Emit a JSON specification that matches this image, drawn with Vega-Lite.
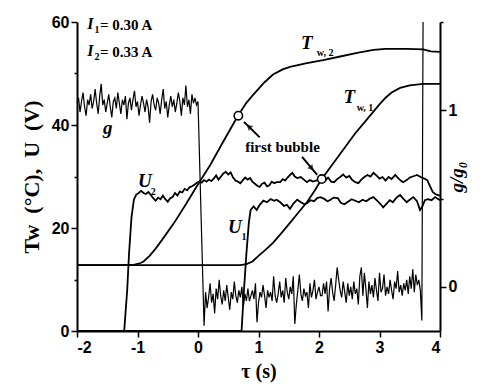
{
"$schema": "https://vega.github.io/schema/vega-lite/v6.json",
"width": 363, "height": 309,
"autosize": "none",
"padding": {"left": 77, "top": 22, "right": 48, "bottom": 56},
"background": "white",
"config": {"view": {"stroke": null}, "axis": {"grid": false, "domainColor": "black", "domainWidth": 2, "tickColor": "black", "tickWidth": 1.5, "labelColor": "black", "labelFont": "Liberation Sans", "labelFontWeight": "bold", "labelFontSize": 16, "titleColor": "black", "titleFont": "Liberation Serif", "titleFontWeight": "bold"}},
"datasets": {
"temps": [
{"s":"Tw2","t":-2,"v":12.8},{"s":"Tw2","t":-1.2,"v":12.8},{"s":"Tw2","t":-1.05,"v":12.9},{"s":"Tw2","t":-0.95,"v":13.2},{"s":"Tw2","t":-0.9,"v":13.5},{"s":"Tw2","t":-0.8,"v":14.6},{"s":"Tw2","t":-0.7,"v":16.0},{"s":"Tw2","t":-0.6,"v":17.6},{"s":"Tw2","t":-0.4,"v":20.9},{"s":"Tw2","t":-0.2,"v":24.6},{"s":"Tw2","t":0,"v":28.5},{"s":"Tw2","t":0.2,"v":32.2},{"s":"Tw2","t":0.4,"v":36.4},{"s":"Tw2","t":0.66,"v":41.8},{"s":"Tw2","t":0.8,"v":44.3},{"s":"Tw2","t":0.9,"v":45.7},{"s":"Tw2","t":1.0,"v":47.0},{"s":"Tw2","t":1.1,"v":48.3},{"s":"Tw2","t":1.24,"v":49.8},{"s":"Tw2","t":1.4,"v":50.8},{"s":"Tw2","t":1.52,"v":51.3},{"s":"Tw2","t":1.8,"v":52.0},{"s":"Tw2","t":2.07,"v":52.6},{"s":"Tw2","t":2.35,"v":53.3},{"s":"Tw2","t":2.63,"v":54.0},{"s":"Tw2","t":2.9,"v":54.6},{"s":"Tw2","t":3.1,"v":54.8},{"s":"Tw2","t":3.45,"v":54.8},{"s":"Tw2","t":3.72,"v":54.7},{"s":"Tw2","t":3.85,"v":54.3},{"s":"Tw2","t":4.0,"v":54.2},
{"s":"Tw1","t":-2,"v":12.8},{"s":"Tw1","t":0.7,"v":12.8},{"s":"Tw1","t":0.8,"v":13.0},{"s":"Tw1","t":0.9,"v":13.5},{"s":"Tw1","t":1.0,"v":14.6},{"s":"Tw1","t":1.1,"v":15.6},{"s":"Tw1","t":1.24,"v":17.1},{"s":"Tw1","t":1.4,"v":19.3},{"s":"Tw1","t":1.52,"v":21.0},{"s":"Tw1","t":1.66,"v":23.0},{"s":"Tw1","t":1.8,"v":25.0},{"s":"Tw1","t":1.93,"v":27.3},{"s":"Tw1","t":2.045,"v":29.5},{"s":"Tw1","t":2.2,"v":32.0},{"s":"Tw1","t":2.4,"v":35.2},{"s":"Tw1","t":2.6,"v":38.4},{"s":"Tw1","t":2.8,"v":41.2},{"s":"Tw1","t":3.0,"v":44.0},{"s":"Tw1","t":3.1,"v":45.3},{"s":"Tw1","t":3.2,"v":46.3},{"s":"Tw1","t":3.34,"v":47.2},{"s":"Tw1","t":3.5,"v":47.7},{"s":"Tw1","t":3.72,"v":48.0},{"s":"Tw1","t":4.0,"v":48.0},
{"s":"U2","t":-2,"v":0},{"s":"U2","t":-1.22,"v":0},{"s":"U2","t":-1.17,"v":8},{"s":"U2","t":-1.14,"v":15},{"s":"U2","t":-1.1,"v":22},{"s":"U2","t":-1.06,"v":25.5},{"s":"U2","t":-1.02,"v":26.5},{"s":"U2","t":-0.98,"v":26.8},{"s":"U2","t":-0.94,"v":27.2},{"s":"U2","t":-0.9,"v":26.8},{"s":"U2","t":-0.86,"v":26.6},{"s":"U2","t":-0.82,"v":27.0},{"s":"U2","t":-0.78,"v":26.4},{"s":"U2","t":-0.74,"v":25.8},{"s":"U2","t":-0.7,"v":25.3},{"s":"U2","t":-0.66,"v":25.9},{"s":"U2","t":-0.62,"v":25.6},{"s":"U2","t":-0.58,"v":26.3},{"s":"U2","t":-0.54,"v":25.6},{"s":"U2","t":-0.5,"v":25.1},{"s":"U2","t":-0.46,"v":25.8},{"s":"U2","t":-0.42,"v":26.0},{"s":"U2","t":-0.38,"v":26.8},{"s":"U2","t":-0.34,"v":26.3},{"s":"U2","t":-0.3,"v":27.1},{"s":"U2","t":-0.26,"v":26.9},{"s":"U2","t":-0.22,"v":27.6},{"s":"U2","t":-0.18,"v":27.3},{"s":"U2","t":-0.14,"v":27.9},{"s":"U2","t":-0.1,"v":28.1},{"s":"U2","t":-0.06,"v":28.4},{"s":"U2","t":-0.02,"v":28.8},{"s":"U2","t":0.02,"v":29.0},{"s":"U2","t":0.06,"v":28.8},{"s":"U2","t":0.1,"v":29.3},{"s":"U2","t":0.14,"v":29.0},{"s":"U2","t":0.18,"v":29.4},{"s":"U2","t":0.22,"v":29.1},{"s":"U2","t":0.26,"v":29.6},{"s":"U2","t":0.3,"v":30.2},{"s":"U2","t":0.34,"v":29.4},{"s":"U2","t":0.38,"v":30.0},{"s":"U2","t":0.42,"v":30.6},{"s":"U2","t":0.46,"v":30.9},{"s":"U2","t":0.5,"v":30.4},{"s":"U2","t":0.54,"v":30.8},{"s":"U2","t":0.58,"v":29.8},{"s":"U2","t":0.62,"v":29.2},{"s":"U2","t":0.66,"v":29.0},{"s":"U2","t":0.7,"v":28.7},{"s":"U2","t":0.74,"v":29.3},{"s":"U2","t":0.78,"v":29.8},{"s":"U2","t":0.82,"v":29.4},{"s":"U2","t":0.86,"v":29.7},{"s":"U2","t":0.9,"v":29.0},{"s":"U2","t":0.94,"v":28.6},{"s":"U2","t":0.98,"v":28.2},{"s":"U2","t":1.02,"v":28.0},{"s":"U2","t":1.06,"v":28.6},{"s":"U2","t":1.1,"v":28.8},{"s":"U2","t":1.14,"v":28.1},{"s":"U2","t":1.18,"v":28.3},{"s":"U2","t":1.22,"v":29.0},{"s":"U2","t":1.26,"v":28.7},{"s":"U2","t":1.3,"v":28.9},{"s":"U2","t":1.36,"v":28.9},{"s":"U2","t":1.4,"v":29.5},{"s":"U2","t":1.44,"v":29.2},{"s":"U2","t":1.48,"v":29.8},{"s":"U2","t":1.52,"v":30.3},{"s":"U2","t":1.56,"v":30.7},{"s":"U2","t":1.6,"v":30.0},{"s":"U2","t":1.64,"v":29.7},{"s":"U2","t":1.7,"v":29.9},{"s":"U2","t":1.76,"v":29.3},{"s":"U2","t":1.8,"v":28.9},{"s":"U2","t":1.85,"v":29.3},{"s":"U2","t":1.9,"v":29.0},{"s":"U2","t":1.95,"v":29.2},{"s":"U2","t":2.0,"v":29.4},{"s":"U2","t":2.05,"v":29.5},{"s":"U2","t":2.1,"v":29.2},{"s":"U2","t":2.15,"v":29.8},{"s":"U2","t":2.2,"v":29.0},{"s":"U2","t":2.25,"v":28.9},{"s":"U2","t":2.3,"v":29.5},{"s":"U2","t":2.35,"v":29.9},{"s":"U2","t":2.4,"v":30.4},{"s":"U2","t":2.45,"v":29.8},{"s":"U2","t":2.5,"v":30.1},{"s":"U2","t":2.55,"v":29.3},{"s":"U2","t":2.6,"v":28.9},{"s":"U2","t":2.65,"v":28.7},{"s":"U2","t":2.7,"v":29.4},{"s":"U2","t":2.75,"v":29.9},{"s":"U2","t":2.8,"v":30.3},{"s":"U2","t":2.85,"v":30.0},{"s":"U2","t":2.9,"v":30.7},{"s":"U2","t":2.95,"v":30.2},{"s":"U2","t":3.0,"v":29.6},{"s":"U2","t":3.05,"v":29.9},{"s":"U2","t":3.1,"v":29.2},{"s":"U2","t":3.15,"v":29.9},{"s":"U2","t":3.2,"v":29.5},{"s":"U2","t":3.26,"v":30.3},{"s":"U2","t":3.3,"v":29.8},{"s":"U2","t":3.35,"v":29.2},{"s":"U2","t":3.39,"v":28.9},{"s":"U2","t":3.45,"v":29.3},{"s":"U2","t":3.5,"v":29.8},{"s":"U2","t":3.55,"v":30.0},{"s":"U2","t":3.62,"v":30.3},{"s":"U2","t":3.68,"v":29.9},{"s":"U2","t":3.74,"v":29.6},{"s":"U2","t":3.79,"v":29.3},{"s":"U2","t":3.84,"v":28.0},{"s":"U2","t":3.88,"v":27.0},{"s":"U2","t":3.92,"v":26.6},{"s":"U2","t":3.97,"v":26.4},{"s":"U2","t":4.0,"v":26.3},
{"s":"U1","t":-2,"v":0},{"s":"U1","t":0.72,"v":0},{"s":"U1","t":0.76,"v":8},{"s":"U1","t":0.8,"v":15},{"s":"U1","t":0.84,"v":21},{"s":"U1","t":0.87,"v":23.5},{"s":"U1","t":0.92,"v":24.2},{"s":"U1","t":0.97,"v":23.5},{"s":"U1","t":1.02,"v":24.5},{"s":"U1","t":1.08,"v":25.3},{"s":"U1","t":1.14,"v":25.0},{"s":"U1","t":1.2,"v":25.6},{"s":"U1","t":1.26,"v":25.3},{"s":"U1","t":1.3,"v":25.5},{"s":"U1","t":1.36,"v":25.0},{"s":"U1","t":1.42,"v":24.3},{"s":"U1","t":1.47,"v":24.5},{"s":"U1","t":1.52,"v":23.7},{"s":"U1","t":1.58,"v":24.8},{"s":"U1","t":1.64,"v":25.5},{"s":"U1","t":1.7,"v":25.0},{"s":"U1","t":1.76,"v":24.6},{"s":"U1","t":1.8,"v":24.8},{"s":"U1","t":1.86,"v":25.4},{"s":"U1","t":1.92,"v":25.2},{"s":"U1","t":1.97,"v":25.8},{"s":"U1","t":2.02,"v":26.0},{"s":"U1","t":2.08,"v":25.7},{"s":"U1","t":2.14,"v":25.2},{"s":"U1","t":2.18,"v":25.4},{"s":"U1","t":2.24,"v":25.9},{"s":"U1","t":2.31,"v":25.8},{"s":"U1","t":2.36,"v":24.9},{"s":"U1","t":2.42,"v":24.6},{"s":"U1","t":2.48,"v":25.1},{"s":"U1","t":2.54,"v":25.6},{"s":"U1","t":2.6,"v":25.3},{"s":"U1","t":2.66,"v":25.0},{"s":"U1","t":2.72,"v":25.5},{"s":"U1","t":2.78,"v":25.2},{"s":"U1","t":2.84,"v":25.7},{"s":"U1","t":2.9,"v":26.0},{"s":"U1","t":2.96,"v":25.3},{"s":"U1","t":3.02,"v":24.6},{"s":"U1","t":3.06,"v":24.0},{"s":"U1","t":3.1,"v":24.5},{"s":"U1","t":3.17,"v":25.4},{"s":"U1","t":3.22,"v":25.0},{"s":"U1","t":3.28,"v":25.9},{"s":"U1","t":3.34,"v":26.4},{"s":"U1","t":3.4,"v":25.6},{"s":"U1","t":3.45,"v":25.0},{"s":"U1","t":3.5,"v":25.5},{"s":"U1","t":3.56,"v":26.0},{"s":"U1","t":3.62,"v":25.2},{"s":"U1","t":3.67,"v":23.5},{"s":"U1","t":3.71,"v":24.2},{"s":"U1","t":3.75,"v":25.4},{"s":"U1","t":3.8,"v":25.6},{"s":"U1","t":3.86,"v":25.4},{"s":"U1","t":3.92,"v":26.0},{"s":"U1","t":3.96,"v":25.7},{"s":"U1","t":4.0,"v":25.4}
],
"g": [
{"t":-2,"g":1.04},{"t":-1.975,"g":1.07},{"t":-1.95,"g":0.99},{"t":-1.925,"g":1.05},{"t":-1.9,"g":1.10},{"t":-1.875,"g":1.02},{"t":-1.85,"g":0.97},{"t":-1.825,"g":1.06},{"t":-1.8,"g":1.03},{"t":-1.775,"g":1.09},{"t":-1.75,"g":1.01},{"t":-1.725,"g":1.05},{"t":-1.7,"g":1.12},{"t":-1.675,"g":1.04},{"t":-1.65,"g":0.98},{"t":-1.625,"g":1.08},{"t":-1.6,"g":1.15},{"t":-1.575,"g":1.03},{"t":-1.55,"g":1.06},{"t":-1.525,"g":0.99},{"t":-1.5,"g":1.04},{"t":-1.475,"g":1.09},{"t":-1.45,"g":1.02},{"t":-1.425,"g":0.96},{"t":-1.4,"g":1.05},{"t":-1.375,"g":1.07},{"t":-1.35,"g":1.01},{"t":-1.325,"g":1.10},{"t":-1.3,"g":1.04},{"t":-1.275,"g":0.98},{"t":-1.25,"g":1.06},{"t":-1.225,"g":1.03},{"t":-1.2,"g":1.08},{"t":-1.175,"g":0.95},{"t":-1.15,"g":1.04},{"t":-1.125,"g":1.07},{"t":-1.1,"g":1.00},{"t":-1.075,"g":1.06},{"t":-1.05,"g":1.11},{"t":-1.025,"g":1.02},{"t":-1,"g":1.05},{"t":-0.975,"g":0.97},{"t":-0.95,"g":1.03},{"t":-0.925,"g":1.08},{"t":-0.9,"g":1.04},{"t":-0.875,"g":0.99},{"t":-0.85,"g":1.06},{"t":-0.825,"g":1.02},{"t":-0.8,"g":0.93},{"t":-0.775,"g":1.05},{"t":-0.75,"g":1.09},{"t":-0.725,"g":1.03},{"t":-0.7,"g":1.00},{"t":-0.675,"g":1.07},{"t":-0.65,"g":1.04},{"t":-0.625,"g":0.98},{"t":-0.6,"g":1.06},{"t":-0.575,"g":1.12},{"t":-0.55,"g":1.01},{"t":-0.525,"g":1.05},{"t":-0.5,"g":0.96},{"t":-0.475,"g":1.03},{"t":-0.45,"g":1.08},{"t":-0.425,"g":1.02},{"t":-0.4,"g":1.06},{"t":-0.375,"g":0.99},{"t":-0.35,"g":1.04},{"t":-0.325,"g":1.10},{"t":-0.3,"g":1.05},{"t":-0.275,"g":0.97},{"t":-0.25,"g":1.07},{"t":-0.225,"g":1.03},{"t":-0.2,"g":1.14},{"t":-0.175,"g":1.02},{"t":-0.15,"g":1.06},{"t":-0.125,"g":0.98},{"t":-0.1,"g":1.09},{"t":-0.075,"g":1.04},{"t":-0.05,"g":1.07},{"t":-0.025,"g":1.03},{"t":0,"g":1.05},
{"t":0.1,"g":-0.22},{"t":0.125,"g":-0.03},{"t":0.15,"g":-0.12},{"t":0.175,"g":-0.06},{"t":0.2,"g":0.02},{"t":0.225,"g":-0.09},{"t":0.25,"g":-0.04},{"t":0.275,"g":-0.15},{"t":0.3,"g":-0.01},{"t":0.325,"g":-0.07},{"t":0.35,"g":0.04},{"t":0.375,"g":-0.05},{"t":0.4,"g":-0.10},{"t":0.425,"g":-0.02},{"t":0.45,"g":-0.08},{"t":0.475,"g":0.01},{"t":0.5,"g":-0.06},{"t":0.525,"g":-0.13},{"t":0.55,"g":-0.03},{"t":0.575,"g":-0.07},{"t":0.6,"g":0.03},{"t":0.625,"g":-0.05},{"t":0.65,"g":-0.09},{"t":0.675,"g":-0.02},{"t":0.7,"g":-0.06},{"t":0.725,"g":0.00},{"t":0.75,"g":-0.11},{"t":0.775,"g":-0.04},{"t":0.8,"g":-0.08},{"t":0.825,"g":-0.01},{"t":0.85,"g":-0.08},{"t":0.875,"g":-0.05},{"t":0.9,"g":-0.02},{"t":0.925,"g":-0.07},{"t":0.95,"g":0.02},{"t":0.975,"g":-0.20},{"t":1.0,"g":-0.09},{"t":1.025,"g":-0.03},{"t":1.05,"g":-0.06},{"t":1.075,"g":0.01},{"t":1.1,"g":-0.05},{"t":1.125,"g":-0.12},{"t":1.15,"g":-0.02},{"t":1.175,"g":-0.06},{"t":1.2,"g":-0.03},{"t":1.225,"g":-0.08},{"t":1.25,"g":0.06},{"t":1.275,"g":-0.05},{"t":1.3,"g":-0.09},{"t":1.325,"g":-0.04},{"t":1.35,"g":0.03},{"t":1.375,"g":-0.06},{"t":1.4,"g":-0.02},{"t":1.425,"g":-0.09},{"t":1.45,"g":0.05},{"t":1.475,"g":-0.03},{"t":1.5,"g":-0.07},{"t":1.525,"g":0.00},{"t":1.55,"g":-0.04},{"t":1.575,"g":0.06},{"t":1.6,"g":-0.21},{"t":1.625,"g":-0.10},{"t":1.65,"g":-0.02},{"t":1.675,"g":0.07},{"t":1.7,"g":-0.04},{"t":1.725,"g":-0.08},{"t":1.75,"g":-0.01},{"t":1.775,"g":-0.05},{"t":1.8,"g":-0.03},{"t":1.825,"g":-0.12},{"t":1.85,"g":0.02},{"t":1.875,"g":-0.06},{"t":1.9,"g":-0.02},{"t":1.925,"g":0.04},{"t":1.95,"g":-0.07},{"t":1.975,"g":-0.03},{"t":2.0,"g":0.00},{"t":2.025,"g":-0.05},{"t":2.05,"g":-0.05},{"t":2.075,"g":0.02},{"t":2.1,"g":-0.04},{"t":2.125,"g":0.03},{"t":2.15,"g":-0.14},{"t":2.175,"g":-0.01},{"t":2.2,"g":0.05},{"t":2.225,"g":-0.03},{"t":2.25,"g":-0.08},{"t":2.275,"g":0.01},{"t":2.3,"g":0.11},{"t":2.325,"g":0.04},{"t":2.35,"g":-0.02},{"t":2.375,"g":-0.06},{"t":2.4,"g":0.03},{"t":2.425,"g":-0.03},{"t":2.45,"g":-0.09},{"t":2.475,"g":0.02},{"t":2.5,"g":-0.05},{"t":2.525,"g":0.00},{"t":2.55,"g":-0.07},{"t":2.575,"g":0.03},{"t":2.6,"g":-0.04},{"t":2.625,"g":-0.01},{"t":2.65,"g":-0.10},{"t":2.675,"g":0.06},{"t":2.7,"g":0.11},{"t":2.725,"g":-0.05},{"t":2.75,"g":0.08},{"t":2.775,"g":-0.01},{"t":2.8,"g":-0.12},{"t":2.825,"g":0.03},{"t":2.85,"g":-0.04},{"t":2.875,"g":0.01},{"t":2.9,"g":-0.06},{"t":2.925,"g":0.05},{"t":2.95,"g":-0.02},{"t":2.975,"g":-0.08},{"t":3.0,"g":0.08},{"t":3.025,"g":-0.03},{"t":3.05,"g":-0.01},{"t":3.075,"g":0.07},{"t":3.1,"g":-0.05},{"t":3.125,"g":0.00},{"t":3.15,"g":-0.04},{"t":3.175,"g":0.04},{"t":3.2,"g":-0.02},{"t":3.225,"g":-0.07},{"t":3.25,"g":0.03},{"t":3.275,"g":-0.01},{"t":3.3,"g":0.09},{"t":3.325,"g":-0.03},{"t":3.35,"g":0.01},{"t":3.375,"g":-0.05},{"t":3.4,"g":0.02},{"t":3.425,"g":-0.02},{"t":3.45,"g":0.04},{"t":3.475,"g":-0.04},{"t":3.5,"g":0.06},{"t":3.525,"g":-0.01},{"t":3.55,"g":0.10},{"t":3.575,"g":-0.03},{"t":3.6,"g":0.07},{"t":3.625,"g":0.01},{"t":3.65,"g":0.04},{"t":3.675,"g":-0.02},{"t":3.7,"g":-0.19},{"t":3.72,"g":1.5}
],
"bigItalic": [{"t":1.8,"v":55.9,"label":"T"},{"t":2.5,"v":45.4,"label":"T"},{"t":-0.88,"v":29.1,"label":"U"},{"t":0.61,"v":20.2,"label":"U"},{"t":-1.49,"v":39.4,"label":"g"}],
"iItalic": [{"t":-1.78,"v":59.6,"label":"I"},{"t":-1.78,"v":54.4,"label":"I"}],
"subs": [{"t":2.1,"v":54.0,"label":"w, 2"},{"t":2.76,"v":43.3,"label":"w, 1"},{"t":-0.74,"v":26.9,"label":"2"},{"t":0.76,"v":18.3,"label":"1"},{"t":-1.67,"v":58.5,"label":"1"},{"t":-1.67,"v":53.3,"label":"2"}],
"plain": [{"t":-1.62,"v":59.4,"label":"= 0.30 A"},{"t":-1.62,"v":54.2,"label":"= 0.33 A"},{"t":0.78,"v":35.7,"label":"first bubble"}],
"circles": [{"t":0.667,"v":41.8},{"t":2.045,"v":29.5}],
"arrows": [{"t":1.02,"v":37.6,"t2":0.76,"v2":40.6},{"t":1.72,"v":33.8,"t2":1.97,"v2":30.3}],
"head1": [{"t":0.84,"v":39.7}],
"head2": [{"t":1.88,"v":31.6}]
},
"layer": [
{
"encoding": {
"x": {"field": "t", "type": "quantitative", "scale": {"domain": [-2, 4], "nice": false, "zero": false},
"axis": {"title": "τ (s)", "titleFontSize": 20, "titlePadding": 6, "values": [-2,-1.5,-1,-0.5,0,0.5,1,1.5,2,2.5,3,3.5,4], "labelExpr": "datum.value % 1 === 0 ? '' + datum.value : ''", "tickSize": {"condition": {"test": "datum.value % 1 !== 0", "value": 3}, "value": 6}, "labelPadding": 2}},
"y": {"field": "v", "type": "quantitative", "scale": {"domain": [0, 60], "nice": false},
"axis": {"orient": "left", "title": "Tw\u00a0\u00a0(°C),\u00a0\u00a0U\u00a0\u00a0(V)", "titleFontSize": 22, "titlePadding": 8, "values": [0,10,20,30,40,50,60], "labelExpr": "datum.value % 20 === 0 ? '' + datum.value : ''", "tickSize": {"condition": {"test": "datum.value % 20 !== 0", "value": 3}, "value": 6}, "labelPadding": 2}}
},
"layer": [
{"data": {"name": "temps"}, "mark": {"type": "line", "color": "black", "strokeWidth": 1.8}, "encoding": {"detail": {"field": "s"}}},
{"data": {"name": "arrows"}, "mark": {"type": "rule", "color": "black", "strokeWidth": 2}, "encoding": {"x2": {"field": "t2"}, "y2": {"field": "v2"}}},
{"data": {"name": "head1"}, "mark": {"type": "point", "shape": "triangle-up", "filled": true, "color": "black", "size": 45, "angle": 313}, "encoding": {}},
{"data": {"name": "head2"}, "mark": {"type": "point", "shape": "triangle-up", "filled": true, "color": "black", "size": 45, "angle": 140}, "encoding": {}},
{"data": {"name": "circles"}, "mark": {"type": "point", "shape": "circle", "filled": true, "fill": "white", "stroke": "black", "strokeWidth": 1.6, "size": 70, "opacity": 1}, "encoding": {}},
{"data": {"name": "bigItalic"}, "mark": {"type": "text", "font": "Liberation Serif", "fontStyle": "italic", "fontWeight": "bold", "fontSize": 19, "color": "black"}, "encoding": {"text": {"field": "label"}}},
{"data": {"name": "iItalic"}, "mark": {"type": "text", "font": "Liberation Serif", "fontStyle": "italic", "fontWeight": "bold", "fontSize": 16, "color": "black"}, "encoding": {"text": {"field": "label"}}},
{"data": {"name": "subs"}, "mark": {"type": "text", "font": "Liberation Serif", "fontWeight": "bold", "fontSize": 10, "color": "black"}, "encoding": {"text": {"field": "label"}}},
{"data": {"name": "plain"}, "mark": {"type": "text", "font": "Liberation Serif", "fontWeight": "bold", "fontSize": 15, "align": "left", "color": "black"}, "encoding": {"text": {"field": "label"}}}
]
},
{
"data": {"name": "g"},
"mark": {"type": "line", "color": "black", "strokeWidth": 1.2},
"encoding": {
"x": {"field": "t", "type": "quantitative"},
"y": {"field": "g", "type": "quantitative", "scale": {"domain": [-0.25, 1.5], "nice": false, "zero": false},
"axis": {"orient": "right", "title": "g/g₀", "titleFontSize": 19, "titleFontStyle": "italic", "titleAngle": -90, "titlePadding": 10, "values": [0, 0.5, 1, 1.5], "labelExpr": "datum.value === 0 || datum.value === 1 ? '' + datum.value : ''", "tickSize": {"condition": {"test": "datum.value === 0 || datum.value === 1", "value": 6}, "value": 3}, "labelPadding": 2}}
}
}
],
"resolve": {"scale": {"y": "independent"}, "axis": {"y": "independent"}}
}
